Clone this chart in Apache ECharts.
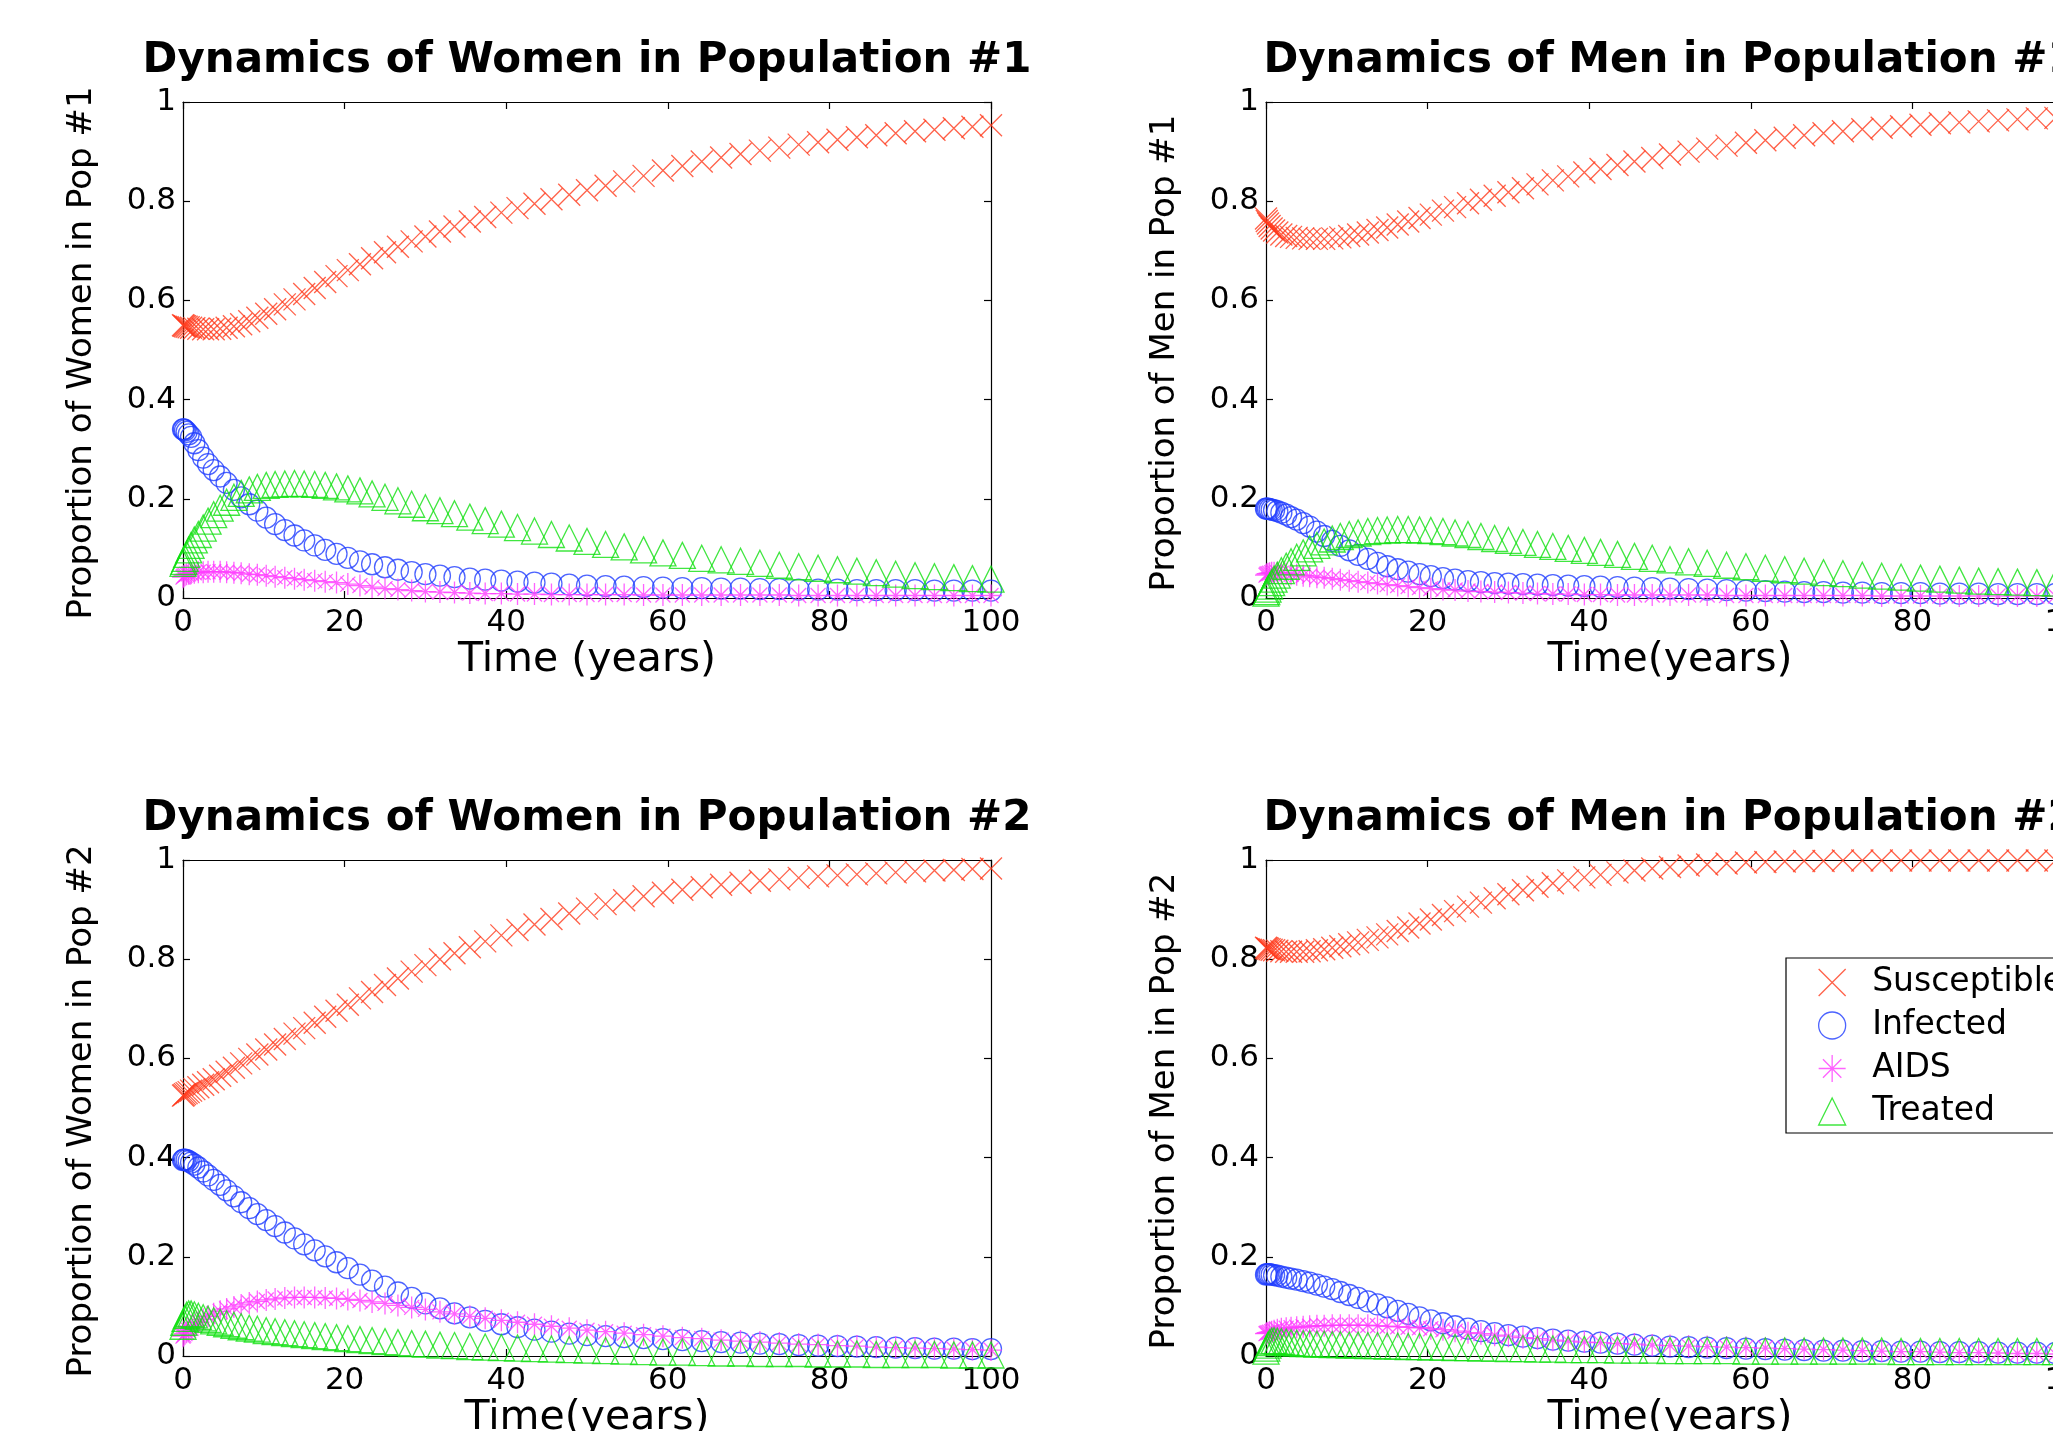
<!DOCTYPE html>
<html>
<head>
<meta charset="utf-8">
<script src="https://cdn.jsdelivr.net/npm/echarts@6/dist/echarts.min.js"></script>
<style>
html,body{margin:0;padding:0;background:#fff;}
#chart{width:2053px;height:1431px;}
</style>
</head>
<body>
<div id="chart"></div>
<script>
// ---- Data ----
const years = [0, 0.1, 0.25, 0.45, 0.7, 1.0, 1.4, 1.9, 2.5, 3.1,
  3.8, 4.6, 5.4, 6.3, 7.2, 8.2, 9.2, 10.3, 11.4, 12.6,
  13.8, 15.0, 16.3, 17.6, 19.0, 20.4, 21.9, 23.4, 25.0, 26.6,
  28.3, 30.0, 31.8, 33.6, 35.5, 37.4, 39.4, 41.4, 43.5, 45.6,
  47.8, 50.0, 52.3, 54.6, 57.0, 59.4, 61.8, 64.2, 66.6, 69.0,
  71.4, 73.8, 76.2, 78.6, 81.0, 83.4, 85.8, 88.2, 90.6, 93.0,
  95.4, 97.7, 100];

const categories = ['Susceptible', 'Infected', 'AIDS', 'Treated'];

const women1Susceptible = [0.550, 0.549, 0.548, 0.547, 0.546, 0.545, 0.544, 0.543, 0.542, 0.542,
  0.542, 0.543, 0.545, 0.548, 0.552, 0.558, 0.565, 0.573, 0.582, 0.592,
  0.602, 0.613, 0.625, 0.637, 0.649, 0.661, 0.673, 0.685, 0.697, 0.708,
  0.719, 0.729, 0.739, 0.749, 0.759, 0.768, 0.777, 0.786, 0.795, 0.804,
  0.813, 0.822, 0.831, 0.840, 0.851, 0.862, 0.871, 0.880, 0.888, 0.895,
  0.902, 0.908, 0.914, 0.919, 0.924, 0.929, 0.933, 0.937, 0.941, 0.944,
  0.947, 0.950, 0.953];
const women1Infected = [0.340, 0.340, 0.338, 0.335, 0.330, 0.325, 0.312, 0.298, 0.283, 0.270,
  0.258, 0.245, 0.232, 0.218, 0.203, 0.189, 0.176, 0.162, 0.149, 0.137,
  0.126, 0.116, 0.106, 0.097, 0.089, 0.081, 0.074, 0.068, 0.062, 0.057,
  0.052, 0.048, 0.045, 0.042, 0.039, 0.037, 0.035, 0.033, 0.031, 0.029,
  0.027, 0.025, 0.024, 0.023, 0.022, 0.021, 0.020, 0.020, 0.019, 0.019,
  0.018, 0.018, 0.017, 0.017, 0.017, 0.016, 0.016, 0.016, 0.016, 0.015,
  0.015, 0.015, 0.015];
const women1AIDS = [0.042, 0.044, 0.046, 0.048, 0.049, 0.050, 0.051, 0.052, 0.052, 0.053,
  0.053, 0.053, 0.052, 0.051, 0.050, 0.048, 0.047, 0.045, 0.043, 0.041,
  0.039, 0.037, 0.035, 0.033, 0.031, 0.028, 0.025, 0.022, 0.019, 0.017,
  0.015, 0.013, 0.012, 0.011, 0.010, 0.009, 0.009, 0.008, 0.008, 0.007,
  0.007, 0.007, 0.007, 0.007, 0.006, 0.006, 0.006, 0.006, 0.006, 0.006,
  0.006, 0.006, 0.005, 0.005, 0.005, 0.005, 0.005, 0.005, 0.005, 0.005,
  0.005, 0.005, 0.005];
const women1Treated = [0.070, 0.074, 0.080, 0.088, 0.097, 0.106, 0.117, 0.128, 0.141, 0.155,
  0.168, 0.181, 0.193, 0.203, 0.211, 0.218, 0.223, 0.227, 0.229, 0.230,
  0.231, 0.230, 0.229, 0.227, 0.224, 0.220, 0.216, 0.210, 0.203, 0.196,
  0.189, 0.182, 0.176, 0.170, 0.163, 0.156, 0.149, 0.142, 0.135, 0.128,
  0.121, 0.114, 0.108, 0.103, 0.097, 0.091, 0.086, 0.080, 0.077, 0.074,
  0.070, 0.066, 0.063, 0.060, 0.057, 0.054, 0.051, 0.048, 0.045, 0.043,
  0.041, 0.039, 0.038];

const men1Susceptible = [0.765, 0.760, 0.755, 0.750, 0.745, 0.741, 0.737, 0.733, 0.730, 0.728,
  0.726, 0.725, 0.724, 0.724, 0.724, 0.725, 0.727, 0.730, 0.733, 0.737,
  0.742, 0.747, 0.753, 0.759, 0.766, 0.773, 0.781, 0.788, 0.796, 0.803,
  0.811, 0.818, 0.826, 0.834, 0.842, 0.850, 0.858, 0.865, 0.873, 0.880,
  0.887, 0.894, 0.900, 0.906, 0.912, 0.918, 0.923, 0.928, 0.933, 0.937,
  0.941, 0.945, 0.948, 0.951, 0.954, 0.957, 0.959, 0.961, 0.963, 0.965,
  0.967, 0.968, 0.970];
const men1Infected = [0.180, 0.180, 0.180, 0.179, 0.178, 0.177, 0.175, 0.172, 0.168, 0.163,
  0.158, 0.151, 0.144, 0.134, 0.125, 0.115, 0.105, 0.096, 0.087, 0.079,
  0.071, 0.064, 0.058, 0.053, 0.048, 0.044, 0.040, 0.037, 0.034, 0.032,
  0.030, 0.029, 0.028, 0.027, 0.026, 0.025, 0.024, 0.023, 0.022, 0.021,
  0.020, 0.019, 0.018, 0.017, 0.016, 0.015, 0.014, 0.013, 0.012, 0.012,
  0.011, 0.011, 0.010, 0.010, 0.010, 0.009, 0.009, 0.009, 0.008, 0.008,
  0.008, 0.008, 0.007];
const men1AIDS = [0.046, 0.048, 0.049, 0.050, 0.051, 0.051, 0.051, 0.050, 0.049, 0.048,
  0.047, 0.045, 0.044, 0.042, 0.041, 0.039, 0.037, 0.035, 0.033, 0.031,
  0.029, 0.027, 0.025, 0.023, 0.021, 0.019, 0.017, 0.016, 0.014, 0.013,
  0.012, 0.011, 0.010, 0.009, 0.008, 0.008, 0.007, 0.007, 0.006, 0.006,
  0.006, 0.006, 0.006, 0.006, 0.005, 0.005, 0.005, 0.005, 0.005, 0.005,
  0.005, 0.005, 0.004, 0.004, 0.004, 0.004, 0.004, 0.004, 0.004, 0.004,
  0.004, 0.004, 0.004];
const men1Treated = [0.010, 0.013, 0.018, 0.024, 0.031, 0.038, 0.046, 0.055, 0.064, 0.073,
  0.082, 0.091, 0.099, 0.106, 0.113, 0.119, 0.124, 0.128, 0.131, 0.134,
  0.136, 0.137, 0.138, 0.138, 0.137, 0.136, 0.134, 0.131, 0.128, 0.124,
  0.120, 0.116, 0.112, 0.108, 0.104, 0.100, 0.096, 0.092, 0.088, 0.084,
  0.080, 0.077, 0.073, 0.070, 0.066, 0.063, 0.060, 0.057, 0.054, 0.051,
  0.049, 0.046, 0.044, 0.042, 0.040, 0.038, 0.036, 0.034, 0.033, 0.032,
  0.031, 0.030, 0.029];

const women2Susceptible = [0.525, 0.526, 0.528, 0.530, 0.532, 0.535, 0.538, 0.542, 0.547, 0.552,
  0.558, 0.565, 0.573, 0.581, 0.590, 0.599, 0.608, 0.618, 0.628, 0.639,
  0.650, 0.661, 0.672, 0.684, 0.696, 0.708, 0.721, 0.734, 0.748, 0.761,
  0.775, 0.788, 0.800, 0.812, 0.824, 0.836, 0.848, 0.859, 0.870, 0.881,
  0.892, 0.902, 0.911, 0.919, 0.927, 0.934, 0.940, 0.945, 0.950, 0.954,
  0.958, 0.961, 0.964, 0.967, 0.969, 0.971, 0.973, 0.975, 0.977, 0.979,
  0.980, 0.982, 0.983];
const women2Infected = [0.395, 0.396, 0.396, 0.395, 0.393, 0.390, 0.386, 0.380, 0.372, 0.364,
  0.355, 0.345, 0.334, 0.322, 0.310, 0.298, 0.286, 0.274, 0.262, 0.249,
  0.237, 0.225, 0.213, 0.201, 0.189, 0.177, 0.164, 0.152, 0.140, 0.128,
  0.117, 0.106, 0.096, 0.086, 0.078, 0.071, 0.064, 0.058, 0.053, 0.049,
  0.045, 0.042, 0.040, 0.038, 0.036, 0.034, 0.032, 0.030, 0.028, 0.027,
  0.025, 0.024, 0.022, 0.021, 0.020, 0.019, 0.018, 0.017, 0.016, 0.015,
  0.015, 0.014, 0.014];
const women2AIDS = [0.040, 0.042, 0.045, 0.048, 0.052, 0.056, 0.062, 0.068, 0.074, 0.080,
  0.085, 0.090, 0.095, 0.099, 0.103, 0.107, 0.110, 0.113, 0.115, 0.117,
  0.118, 0.118, 0.118, 0.117, 0.116, 0.114, 0.112, 0.109, 0.106, 0.102,
  0.098, 0.094, 0.089, 0.085, 0.080, 0.076, 0.072, 0.068, 0.064, 0.060,
  0.056, 0.052, 0.049, 0.046, 0.043, 0.040, 0.037, 0.035, 0.032, 0.030,
  0.028, 0.026, 0.024, 0.023, 0.021, 0.020, 0.018, 0.017, 0.016, 0.015,
  0.014, 0.013, 0.012];
const women2Treated = [0.060, 0.068, 0.076, 0.082, 0.085, 0.085, 0.083, 0.080, 0.077, 0.074,
  0.071, 0.068, 0.065, 0.062, 0.059, 0.056, 0.054, 0.051, 0.049, 0.047,
  0.045, 0.043, 0.041, 0.039, 0.037, 0.035, 0.033, 0.031, 0.029, 0.027,
  0.025, 0.024, 0.022, 0.021, 0.019, 0.018, 0.017, 0.016, 0.015, 0.014,
  0.013, 0.012, 0.011, 0.010, 0.009, 0.008, 0.008, 0.007, 0.006, 0.006,
  0.005, 0.005, 0.005, 0.004, 0.004, 0.004, 0.003, 0.003, 0.003, 0.003,
  0.002, 0.002, 0.002];

const men2Susceptible = [0.823, 0.822, 0.821, 0.820, 0.819, 0.818, 0.817, 0.816, 0.815, 0.815,
  0.815, 0.815, 0.816, 0.818, 0.820, 0.823, 0.826, 0.830, 0.834, 0.839,
  0.844, 0.850, 0.857, 0.864, 0.872, 0.880, 0.889, 0.897, 0.906, 0.914,
  0.923, 0.931, 0.939, 0.946, 0.953, 0.959, 0.965, 0.970, 0.975, 0.979,
  0.983, 0.986, 0.989, 0.991, 0.993, 0.995, 0.996, 0.997, 0.998, 0.998,
  0.999, 0.999, 0.999, 0.999, 0.999, 0.999, 0.999, 0.999, 0.999, 0.999,
  0.999, 0.999, 0.999];
const men2Infected = [0.164, 0.165, 0.165, 0.165, 0.164, 0.163, 0.162, 0.160, 0.158, 0.156,
  0.154, 0.151, 0.148, 0.144, 0.140, 0.135, 0.129, 0.123, 0.117, 0.110,
  0.104, 0.098, 0.091, 0.085, 0.078, 0.072, 0.066, 0.060, 0.055, 0.050,
  0.046, 0.042, 0.039, 0.036, 0.033, 0.031, 0.029, 0.027, 0.025, 0.023,
  0.021, 0.019, 0.018, 0.017, 0.016, 0.015, 0.014, 0.013, 0.012, 0.011,
  0.011, 0.010, 0.010, 0.009, 0.009, 0.008, 0.008, 0.008, 0.007, 0.007,
  0.007, 0.006, 0.006];
const men2AIDS = [0.045, 0.046, 0.047, 0.048, 0.049, 0.051, 0.053, 0.055, 0.056, 0.057,
  0.058, 0.059, 0.060, 0.061, 0.061, 0.062, 0.062, 0.062, 0.062, 0.062,
  0.061, 0.060, 0.059, 0.058, 0.057, 0.055, 0.053, 0.050, 0.047, 0.045,
  0.042, 0.040, 0.037, 0.035, 0.032, 0.030, 0.028, 0.027, 0.025, 0.024,
  0.022, 0.021, 0.020, 0.019, 0.018, 0.017, 0.016, 0.015, 0.014, 0.013,
  0.012, 0.011, 0.010, 0.009, 0.009, 0.008, 0.007, 0.007, 0.006, 0.005,
  0.005, 0.004, 0.004];
const men2Treated = [0.010, 0.016, 0.022, 0.027, 0.030, 0.031, 0.030, 0.029, 0.028, 0.027,
  0.026, 0.025, 0.025, 0.024, 0.024, 0.023, 0.023, 0.022, 0.022, 0.021,
  0.021, 0.020, 0.020, 0.019, 0.019, 0.018, 0.018, 0.017, 0.017, 0.016,
  0.016, 0.015, 0.015, 0.014, 0.014, 0.013, 0.013, 0.013, 0.012, 0.012,
  0.012, 0.011, 0.011, 0.011, 0.011, 0.010, 0.010, 0.010, 0.010, 0.010,
  0.010, 0.010, 0.010, 0.009, 0.009, 0.009, 0.009, 0.009, 0.009, 0.009,
  0.009, 0.009, 0.009];

const panelTitles = ['Dynamics of Women in Population #1', 'Dynamics of Men in Population #1',
  'Dynamics of Women in Population #2', 'Dynamics of Men in Population #2'];
const xAxisNames = ['Time (years)', 'Time(years)', 'Time(years)', 'Time(years)'];
const yAxisNames = ['Proportion of Women in Pop #1', 'Proportion of Men in Pop #1',
  'Proportion of Women in Pop #2', 'Proportion of Men in Pop #2'];
const xTickValues = [0, 20, 40, 60, 80, 100];
const yTickValues = [0, 0.2, 0.4, 0.6, 0.8, 1];

const panelSeries = [
  [women1Susceptible, women1Infected, women1AIDS, women1Treated],
  [men1Susceptible, men1Infected, men1AIDS, men1Treated],
  [women2Susceptible, women2Infected, women2AIDS, women2Treated],
  [men2Susceptible, men2Infected, men2AIDS, men2Treated]
];

// ---- Layout & style ----
const gridBoxes = [
  {left: 183, top: 102}, {left: 1266, top: 102},
  {left: 183, top: 860}, {left: 1266, top: 860}
];
const GW = 808, GH = 496;
const titleCenters = [[587, 61.5], [1670, 61.5], [587, 819.5], [1670, 819.5]];

const crossPath = 'path://M0,0L10,10M10,0L0,10';
const asteriskPath = 'path://M5,0L5,10M0,5L10,5M1.6,1.6L8.4,8.4M8.4,1.6L1.6,8.4';
const trianglePath = 'path://M5,0L10,10L0,10Z';
const markerStyles = [
  {symbol: crossPath, size: 22, color: '#ff3a1c'},
  {symbol: 'circle', size: 21, color: '#1f3cff'},
  {symbol: asteriskPath, size: 22, color: '#ff3cff'},
  {symbol: trianglePath, size: [26, 26], color: '#10e010'}
];
const FONT = 'DejaVu Sans';

const grids = [], xAxes = [], yAxes = [], series = [], titles = [];
gridBoxes.forEach((g, i) => {
  grids.push({left: g.left, top: g.top, width: GW, height: GH, containLabel: false, outerBoundsMode: 'none', show: false});
  const xBase = {
    gridIndex: i, type: 'value', min: xTickValues[0], max: xTickValues[xTickValues.length - 1], interval: 20,
    axisLine: {show: true, onZero: false, lineStyle: {color: '#000', width: 1.2}},
    axisTick: {show: true, inside: true, length: 7, lineStyle: {color: '#000', width: 1.2}},
    splitLine: {show: false}
  };
  xAxes.push(Object.assign({}, xBase, {
    position: 'bottom',
    axisLabel: {show: true, color: '#000', fontFamily: FONT, fontSize: 31, lineHeight: 30, margin: 10},
    name: xAxisNames[i], nameLocation: 'middle', nameGap: 39,
    nameTextStyle: {color: '#000', fontFamily: FONT, fontSize: 41, lineHeight: 41}
  }));
  xAxes.push(Object.assign({}, xBase, {position: 'top', axisLabel: {show: false}}));
  const yBase = {
    gridIndex: i, type: 'value', min: yTickValues[0], max: yTickValues[yTickValues.length - 1], interval: 0.2,
    axisLine: {show: true, onZero: false, lineStyle: {color: '#000', width: 1.2}},
    axisTick: {show: true, inside: true, length: 7, lineStyle: {color: '#000', width: 1.2}},
    splitLine: {show: false}
  };
  yAxes.push(Object.assign({}, yBase, {
    position: 'left',
    axisLabel: {show: true, color: '#000', fontFamily: FONT, fontSize: 31, margin: 7},
    name: yAxisNames[i], nameLocation: 'middle', nameGap: 84, nameRotate: 90,
    nameTextStyle: {color: '#000', fontFamily: FONT, fontSize: 34, lineHeight: 34, padding: [0, 6, 0, 0]}
  }));
  yAxes.push(Object.assign({}, yBase, {position: 'right', axisLabel: {show: false}}));

  panelSeries[i].forEach((vals, s) => {
    const m = markerStyles[s];
    series.push({
      type: 'scatter', name: categories[s],
      xAxisIndex: 2 * i, yAxisIndex: 2 * i,
      symbol: m.symbol, symbolSize: m.size, clip: false,
      itemStyle: {color: 'rgba(0,0,0,0)', borderColor: m.color, borderWidth: 1.3},
      emphasis: {disabled: true},
      data: years.map((t, k) => [t, vals[k]])
    });
  });

  titles.push({
    text: panelTitles[i], left: titleCenters[i][0], top: titleCenters[i][1],
    textAlign: 'center', textVerticalAlign: 'middle', padding: 0,
    textStyle: {color: '#000', fontFamily: FONT, fontWeight: 'bold', fontSize: 42}
  });
});

const chart = echarts.init(document.getElementById('chart'), null, {renderer: 'canvas'});
chart.setOption({
  backgroundColor: '#fff',
  animation: false,
  title: titles,
  grid: grids,
  xAxis: xAxes,
  yAxis: yAxes,
  legend: {
    show: true, orient: 'vertical', left: 1786, top: 958,
    padding: [8, 40, 5, 32], itemWidth: 70, itemHeight: 27, itemGap: 10,
    backgroundColor: '#fff', borderColor: '#000', borderWidth: 1.2, borderRadius: 0,
    selectedMode: false, symbolKeepAspect: true,
    textStyle: {color: '#000', fontFamily: FONT, fontSize: 33, lineHeight: 27},
    data: categories.map((c, s) => ({
      name: c, icon: markerStyles[s].symbol,
      itemStyle: {color: 'rgba(0,0,0,0)', borderColor: markerStyles[s].color, borderWidth: 1.3}
    }))
  },
  series: series
});
</script>
</body>
</html>
